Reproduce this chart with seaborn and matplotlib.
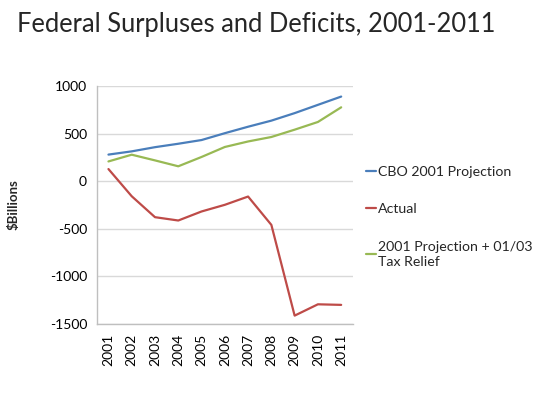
import matplotlib
matplotlib.use("Agg")
import matplotlib.pyplot as plt
import pandas as pd
import seaborn as sns

# values ($ billions)
years = ["2001", "2002", "2003", "2004", "2005", "2006", "2007", "2008", "2009", "2010", "2011"]
cbo_projection = [280, 314, 358, 394, 433, 505, 573, 637, 716, 803, 890]
actual = [128, -158, -378, -413, -318, -248, -161, -459, -1413, -1294, -1300]
tax_relief = [208, 279, 219, 157, 255, 360, 418, 465, 542, 623, 777]

series_names = ["CBO 2001 Projection", "Actual", "2001 Projection + 01/03\nTax Relief"]
colors = ["#4A7EBB", "#BE4B48", "#98B954"]

df = pd.DataFrame({
    "year": years * 3,
    "value": cbo_projection + actual + tax_relief,
    "series": [series_names[0]] * 11 + [series_names[1]] * 11 + [series_names[2]] * 11,
})

sns.set_style("white")
plt.rcParams["font.family"] = ["Lato", "DejaVu Sans"]
plt.rcParams["axes.unicode_minus"] = False

fig = plt.figure(figsize=(5.47, 3.95), dpi=100)
ax = fig.add_axes([0.177, 0.180, 0.468, 0.602])

sns.lineplot(data=df, x="year", y="value", hue="series", palette=colors,
             linewidth=1.6, ax=ax, sort=False)

ax.set_ylim(-1500, 1000)
ax.set_yticks([-1500, -1000, -500, 0, 500, 1000])
ax.set_xlim(-0.5, 10.5)
ax.yaxis.grid(True, color="#D9D9D9", linewidth=1)
ax.set_axisbelow(True)
for side in ["top", "right"]:
    ax.spines[side].set_visible(False)
for side in ["left", "bottom"]:
    ax.spines[side].set_color("#BFBFBF")
    ax.spines[side].set_linewidth(1)
ax.tick_params(axis="both", length=0, labelsize=10, colors="black", pad=7)
ax.tick_params(axis="x", labelrotation=90)
ax.set_xlabel("")
ax.set_ylabel("$Billions", fontsize=9.5, fontweight="bold", labelpad=22)

leg = ax.legend(loc="center left", bbox_to_anchor=(1.0, 0.45), frameon=False,
                fontsize=10.2, handlelength=0.75, handletextpad=0.15, labelspacing=1.8)
for t in leg.get_texts():
    t.set_linespacing(1.35)

fig.suptitle("Federal Surpluses and Deficits, 2001-2011", x=0.468, y=0.97,
             fontsize=18.4, fontweight="normal")

fig.savefig("out.png", dpi=100)
